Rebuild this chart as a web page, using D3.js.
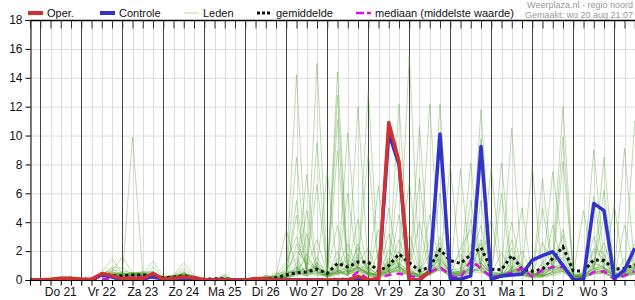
<!DOCTYPE html>
<html>
<head>
<meta charset="utf-8">
<script src="https://cdn.jsdelivr.net/npm/d3@7"></script>
<style>
  body { margin: 0; background: #fff; }
  svg { display: block; font-family: "Liberation Sans", Arial, sans-serif; }
</style>
</head>
<body>
<div id="container"></div>
<script>
// define constants
const WIDTH = 635;
const HEIGHT = 300;
const START = Date.UTC(2025, 7, 20, 18);   // wo 20 aug 18:00
const STEP = 6 * 3600 * 1000;              // 6-hourly values

const dayLabels = ["Do 21", "Vr 22", "Za 23", "Zo 24", "Ma 25", "Di 26", "Wo 27",
                   "Do 28", "Vr 29", "Za 30", "Zo 31", "Ma 1", "Di 2", "Wo 3"];
const yTicks = [0, 2, 4, 6, 8, 10, 12, 14, 16, 18];

// operationele run (stops at za 30 12:00)
const oper = [0, 0, 0.05, 0.12, 0.12, 0.05, 0.05, 0.45, 0.3, 0.08,
              0.08, 0.1, 0.45, 0.05, 0.12, 0.2, 0.15, 0.02, 0, 0.02,
              0, 0, 0.1, 0.08, 0, 0, 0, 0, 0, 0,
              0, 0, 0.25, 0.03, 0.02, 10.9, 8.2, 0, 0, 0.6];

const controle = [0, 0, 0, 0.03, 0.05, 0, 0.02, 0.35, 0.2, 0.05,
                  0.05, 0.05, 0.25, 0.02, 0.05, 0.1, 0.05, 0, 0, 0,
                  0, 0, 0.02, 0, 0, 0, 0, 0, 0, 0,
                  0, 0, 0.12, 0, 0.02, 10.15, 8.0, 0, 0, 0.6,
                  10.1, 0.1, 0.05, 0.28, 9.25, 0.05, 0.28, 0.35, 0.4, 1.38,
                  1.68, 1.96, 1.0, 0.02, 0.05, 5.3, 4.8, 0.1, 0.7, 2.2];

const gemiddelde = [0.02, 0.02, 0.03, 0.1, 0.1, 0.05, 0.05, 0.3, 0.3, 0.3,
                    0.35, 0.35, 0.35, 0.15, 0.2, 0.3, 0.15, 0.05, 0.08, 0.08,
                    0.03, 0.03, 0.08, 0.06, 0.15, 0.35, 0.5, 0.55, 0.75, 0.45,
                    1.15, 0.9, 1.25, 1.25, 0.6, 1.0, 1.8, 1.2, 0.65, 0.9,
                    2.1, 1.35, 1.15, 1.75, 2.25, 0.75, 0.7, 1.7, 0.75, 0.6,
                    0.75, 1.5, 2.3, 0.65, 0.6, 1.4, 1.35, 0.75, 0.8, 1.05];

const mediaan = [0, 0, 0, 0, 0, 0, 0, 0.05, 0.1, 0.15,
                 0.15, 0.2, 0.15, 0.02, 0.05, 0.05, 0.02, 0, 0, 0,
                 0, 0, 0, 0, 0, 0.02, 0.03, 0.03, 0.05, 0.02,
                 0.1, 0.05, 0.55, 0.05, 0.15, 0.35, 0.45, 0.3, 0.15, 0.5,
                 0.9, 0.3, 0.15, 1.35, 0.8, 0.2, 0.3, 0.5, 0.8, 0.25,
                 0.7, 0.9, 0.9, 0.1, 0.1, 0.55, 0.6, 0.05, 0.3, 0.6];

// ensemble members, one string per member, grouped per day (| = midnight)
const leden = [
  "0 0 0 0.1 0.1 | 0 0.1 0.4 0.3 | 0.2 0.3 0.3 0.2 | 0.1 0.2 0.2 0.1 | 0 0 0 0 | 0 0 0.1 0.2 | 0.5 14.2 0.8 0.3 | 0.4 1.2 0.6 1.8 | 0.9 0.3 1.1 2.0 | 0.6 0.2 0.4 2.2 | 0.8 0.5 1.5 2.0 | 0.3 0.2 1.4 0.6 | 0.4 0.3 0.9 3.1 | 0.3 0.2 1.2 0.8 | 0.2 0.6 1.0",
  "0 0 0 0.1 0.2 | 0 0 0.5 1.5 | 0.4 0.3 0.2 0.3 | 0 0.1 0.3 0.1 | 0 0.1 0 0 | 0 0 0 0.3 | 0.8 1.5 0.4 15.0 | 0.3 0.6 1.8 0.9 | 0.4 0.2 2.1 1.0 | 0.3 0.9 0.5 3.0 | 1.1 0.4 0.7 2.5 | 0.2 0.3 0.6 1.1 | 0.2 0.8 1.5 0.9 | 0.2 0.1 2.0 1.5 | 0.5 0.4 1.8",
  "0 0 0 0.2 0.1 | 0 0.1 0.3 0.6 | 1.6 0.5 0.4 0.3 | 0.2 0.1 0.5 0.2 | 0 0 0.2 0 | 0 0 0.1 0 | 0.2 0.6 7.3 0.5 | 0.2 14.4 0.9 0.7 | 1.2 0.5 0.8 1.4 | 2.0 0.4 1.1 0.6 | 0.9 1.8 0.5 1.2 | 0.4 0.6 2.2 0.5 | 0.3 0.4 0.7 1.6 | 0.2 0.3 0.8 0.6 | 0.9 0.3 0.5",
  "0 0 0 0 0.1 | 0 0 0.3 0.2 | 0.2 9.9 0.4 1.3 | 0.3 0.2 0.4 0.2 | 0.1 0 0 0 | 0 0.1 0.3 0.1 | 0.1 2.5 1.0 6.6 | 0.5 0.8 0.3 12.0 | 0.6 0.2 1.5 0.9 | 15.5 0.6 0.3 1.8 | 0.5 0.4 1.3 0.9 | 0.3 0.2 0.8 0.6 | 0.4 0.5 1.2 2.4 | 0.2 0.3 0.6 0.9 | 0.3 0.2 0.8",
  "0 0 0 0.1 0.2 | 0.1 0 0.4 0.8 | 0.3 0.4 0.5 0.6 | 0.1 0.3 1.2 0.3 | 0 0.1 0.1 0 | 0 0 0 0.5 | 0.3 0.9 0.6 1.2 | 0.2 12.8 0.5 0.8 | 13.1 0.6 0.9 1.5 | 0.8 0.3 12.2 1.0 | 0.2 0.7 1.9 0.6 | 0.3 0.4 10.5 0.8 | 0.5 0.2 1.0 0.7 | 0.2 0.5 1.3 0.9 | 0.4 0.3 0.6",
  "0 0 0 0.1 0.1 | 0 0.1 0.3 0.4 | 0.5 0.4 0.3 0.4 | 0.2 0.3 0.6 0.1 | 0 0 0.4 0 | 0 0 0.2 0.1 | 0.4 0.7 1.5 0.8 | 0.3 0.5 10.2 1.1 | 0.4 0.3 0.6 12.2 | 0.7 0.3 0.5 2.6 | 0.6 0.5 1.0 9.8 | 0.4 0.3 0.6 0.9 | 0.2 0.6 1.4 1.8 | 0.5 0.3 9.0 1.2 | 0.4 0.5 1.0",
  "0 0 0 0.2 0.2 | 0 0 0.5 0.4 | 0.3 0.3 0.2 0.3 | 0.1 0.2 0.3 0.2 | 0 0 0 0 | 0 0 0.3 0.2 | 0.3 1.2 0.5 0.9 | 0.5 11.1 0.4 0.6 | 0.8 0.4 0.7 1.1 | 0.6 10.6 0.3 0.9 | 0.5 0.6 8.1 0.7 | 0.2 0.5 0.4 0.6 | 7.9 0.3 0.5 0.8 | 0.3 0.2 0.7 0.5 | 0.2 0.4 0.6",
  "0 0 0 0 0.1 | 0 0 0.3 0.3 | 0.4 0.5 0.3 0.5 | 0.2 0.1 0.2 0.1 | 0 0.1 0.3 0 | 0 0 0 0.4 | 0.6 0.4 1.8 0.5 | 0.3 0.9 0.6 1.3 | 0.5 0.2 1.2 0.6 | 0.4 0.5 0.8 12.2 | 0.7 0.3 0.9 11.8 | 0.5 0.4 1.0 0.6 | 0.3 0.4 1.8 12.0 | 0.4 0.3 0.8 8.5 | 0.3 0.6 1.2",
  "0 0 0 0.1 0.1 | 0 0.1 0.4 0.5 | 0.3 0.2 0.4 0.3 | 0.1 0.3 0.4 0.3 | 0 0 0.1 0 | 0 0 0.2 0.3 | 1.2 3.0 0.7 0.6 | 0.4 1.5 0.8 2.2 | 0.6 0.3 0.5 1.9 | 0.8 0.2 0.6 1.1 | 8.0 0.6 0.8 1.5 | 0.4 0.3 1.2 0.4 | 0.2 0.6 7.5 2.0 | 0.4 0.2 0.6 1.5 | 0.3 9.1 0.8",
  "0 0 0 0.1 0.2 | 0 0 0.4 0.6 | 0.3 0.4 0.3 0.4 | 0.2 0.2 0.3 0.2 | 0 0 0 0 | 0 0 0 0.2 | 0.4 0.8 0.3 1.2 | 0.6 0.4 1.1 0.8 | 0.5 0.3 0.9 1.2 | 0.6 0.4 0.9 2.0 | 0.4 7.7 0.6 0.9 | 7.8 0.4 0.5 0.7 | 0.4 0.5 1.0 9.9 | 0.3 0.2 1.1 0.9 | 0.3 0.4 11.0",
  "0 0 0 0.1 0.1 | 0 0 0.3 0.9 | 0.8 0.4 0.6 0.5 | 0.1 0.1 0.4 0.2 | 0.1 0 0.2 0 | 0 0 0.2 0.1 | 0.2 0.5 0.9 2.8 | 0.4 0.6 0.4 1.6 | 0.7 0.4 1.3 0.8 | 0.5 0.3 0.6 1.4 | 0.6 0.3 0.8 1.2 | 0.3 8.1 0.6 0.9 | 0.5 0.3 0.9 8.2 | 0.6 0.4 1.5 1.2 | 0.4 0.5 0.9",
  "0 0 0 0.1 0.1 | 0 0.1 0.5 0.2 | 0.2 0.3 0.3 0.9 | 0.2 0.2 0.5 0.1 | 0 0 0.1 0 | 0 0 0.1 0.1 | 0.3 4.5 0.6 1.0 | 0.3 0.8 2.5 0.7 | 0.4 0.5 3.2 0.9 | 0.7 4.0 0.4 0.8 | 0.3 2.2 3.5 1.0 | 0.6 0.4 2.8 0.5 | 0.3 0.8 0.6 3.5 | 0.4 0.3 0.9 2.6 | 0.2 1.5 0.7",
  "0 0 0 0.2 0.1 | 0 0 0.4 0.5 | 0.5 0.2 0.4 0.4 | 0.1 0.2 0.3 0.2 | 0 0 0 0 | 0 0 0.3 0.2 | 0.5 0.6 0.8 0.5 | 0.6 3.8 0.5 1.2 | 2.2 0.4 0.6 4.5 | 0.6 0.3 2.8 0.9 | 0.5 0.6 1.4 3.8 | 0.4 1.9 0.6 0.7 | 0.3 2.6 0.8 1.1 | 0.3 0.4 3.0 0.8 | 0.5 0.4 2.5",
  "0 0 0 0.1 0.1 | 0 0 0.3 0.4 | 0.4 0.5 0.5 0.3 | 0.2 0.3 0.4 0.2 | 0 0 0 0 | 0 0 0 0.1 | 0.1 0.4 3.2 0.6 | 0.3 2.0 0.5 0.9 | 0.4 1.8 0.6 0.7 | 3.2 0.4 0.5 1.2 | 0.4 0.3 4.2 0.9 | 0.6 0.3 0.7 2.0 | 0.4 0.5 0.8 0.6 | 0.2 0.6 1.0 4.4 | 0.3 0.5 1.2",
  "0 0 0 0 0.1 | 0 0 0.3 0.3 | 0.3 0.3 0.2 0.3 | 0.1 0.1 0.2 0.1 | 0 0 0 0 | 0 0 0.1 0 | 0.1 0.3 0.5 0.4 | 0.3 0.5 0.4 0.6 | 0.4 0.2 0.5 0.6 | 0.3 0.2 0.4 0.7 | 0.3 0.4 0.6 0.5 | 0.2 0.2 0.4 0.3 | 0.2 0.3 0.5 0.6 | 0.1 0.2 0.4 0.5 | 0.2 0.3 0.4",
  "0 0 0 0.1 0.1 | 0 0 0.4 0.3 | 0.2 0.4 0.3 0.2 | 0.1 0.2 0.3 0.1 | 0 0 0.1 0 | 0 0 0 0.2 | 0.2 0.9 0.4 1.6 | 0.2 0.7 0.3 0.9 | 0.3 0.1 0.4 1.0 | 0.2 0.1 0.6 0.8 | 0.2 0.3 0.5 0.9 | 0.1 0.2 0.9 0.4 | 0.1 0.2 0.6 1.0 | 0.1 0.1 0.5 0.6 | 0.1 0.3 0.5",
  "0 0 0 0.1 0.2 | 0 0.1 0.4 0.7 | 0.6 0.5 0.4 0.6 | 0.2 0.3 0.8 0.2 | 0 0.1 0.2 0 | 0 0 0.2 0.3 | 0.6 2.0 1.2 0.8 | 0.5 1.0 1.4 0.8 | 0.9 0.4 0.7 2.8 | 0.9 0.5 1.8 1.3 | 0.7 0.8 2.5 1.6 | 0.3 0.5 1.6 0.8 | 0.3 1.2 2.0 1.4 | 0.2 0.4 2.2 1.8 | 0.6 0.8 1.5",
  "0 0 0 0.1 0.1 | 0 0 0.3 0.4 | 0.4 0.3 0.3 0.4 | 0.2 0.2 0.3 0.1 | 0 0 0 0 | 0 0 0 0 | 0.1 0.5 0.3 0.7 | 0.2 0.4 0.6 0.5 | 0.3 0.2 0.6 0.8 | 0.4 0.2 0.5 1.0 | 0.3 0.2 0.8 0.6 | 0.2 0.3 0.5 0.4 | 0.2 0.3 0.4 0.7 | 0.1 0.2 0.6 0.4 | 0.2 0.3 0.6",
  "0 0 0 0.1 0.1 | 0 0 0.5 0.3 | 0.3 0.4 0.4 0.3 | 0.1 0.2 0.4 0.1 | 0 0 0 0 | 0 0 0.1 0.1 | 0.2 5.5 0.5 0.9 | 0.3 0.6 0.8 4.2 | 0.5 0.3 5.0 0.8 | 0.5 0.2 0.8 1.6 | 0.4 0.3 0.9 5.5 | 0.3 0.2 0.7 0.5 | 0.2 0.6 0.9 0.8 | 0.3 0.2 5.8 0.7 | 0.3 0.4 0.8",
  "0 0 0 0.1 0.1 | 0 0 0.4 0.2 | 0.2 0.3 0.3 0.3 | 0.1 0.1 0.2 0.1 | 0 0 0 0 | 0 0 0 0.1 | 0.2 0.6 0.3 0.5 | 0.2 0.4 0.7 0.6 | 0.4 6.5 0.5 0.7 | 0.4 0.2 0.5 0.9 | 0.4 0.3 0.6 0.7 | 0.2 0.4 0.6 0.4 | 0.2 0.3 0.4 0.6 | 0.2 0.2 0.5 0.7 | 0.2 0.3 0.5",
  "0 0 0 0.1 0.1 | 0 0 0.3 0.3 | 0.3 0.3 0.3 0.4 | 0.1 0.2 0.3 0.1 | 0 0 0 0 | 0 0.1 0.2 0.1 | 0.3 8.5 0.6 1.0 | 0.4 0.5 6.0 0.8 | 0.5 0.3 0.6 1.0 | 6.8 0.4 0.5 1.2 | 0.5 0.4 2.0 0.8 | 0.3 6.0 0.4 0.6 | 0.3 0.4 3.8 0.7 | 0.2 0.3 0.8 6.2 | 0.3 0.5 0.9",
  "0 0 0 0.1 0.2 | 0 0 0.4 0.4 | 0.5 0.4 0.3 0.3 | 0.2 0.2 0.5 0.2 | 0 0 0 0 | 0 0 0.1 0.2 | 0.5 0.6 4.8 0.8 | 0.3 9.0 0.5 0.7 | 0.5 0.4 0.8 7.5 | 0.6 0.3 4.5 0.9 | 0.4 0.5 0.7 1.3 | 4.2 0.3 0.6 0.5 | 0.3 5.0 0.7 1.0 | 0.2 0.3 0.8 1.0 | 5.2 0.4 0.7",
  "0 0 0 0.1 0.1 | 0 0 0.3 0.5 | 0.4 0.5 0.5 0.4 | 0.2 0.3 0.4 0.3 | 0 0 0.1 0 | 0 0 0 0.3 | 3.5 0.8 0.5 9.5 | 0.3 0.6 0.4 1.0 | 8.8 0.4 0.6 0.9 | 0.5 7.0 0.5 1.0 | 0.4 0.5 5.5 0.9 | 0.3 0.4 0.7 5.0 | 0.3 0.3 0.6 0.9 | 0.3 4.8 0.7 0.8 | 0.3 0.5 0.8",
  "0 0 0 0.2 0.1 | 0 0 0.4 0.3 | 0.3 0.3 0.4 0.3 | 0.1 0.2 0.3 0.2 | 0 0 0 0 | 0 0 0.2 0.1 | 0.2 0.5 0.4 0.7 | 7.5 0.5 0.6 0.9 | 0.4 3.5 0.5 0.7 | 0.4 0.3 0.6 6.0 | 0.5 0.3 0.6 0.8 | 0.2 0.3 4.0 0.6 | 0.2 7.0 0.5 0.8 | 0.2 0.3 0.5 0.7 | 0.2 3.8 0.6",
  "0 0 0 0.1 0.1 | 0 0 0.3 0.2 | 0.2 0.3 0.2 0.3 | 0.1 0.1 0.2 0.1 | 0 0 0 0 | 0 0 0 0.1 | 0.2 0.4 0.3 0.6 | 0.2 0.5 0.3 2.5 | 0.3 0.2 0.5 0.6 | 0.3 0.2 0.4 0.7 | 0.3 0.2 0.5 2.8 | 0.2 0.2 0.4 0.3 | 0.2 0.2 0.3 0.5 | 0.1 0.2 0.4 0.5 | 0.2 0.2 0.4",
  "0 0 0 0.1 0.1 | 0 0.1 0.3 0.3 | 0.3 0.4 0.3 0.4 | 0.1 0.2 0.3 0.1 | 0 0 0 0 | 0 0 0.1 0.1 | 0.2 0.6 0.5 0.8 | 0.4 0.7 0.5 0.9 | 0.5 0.3 0.7 0.9 | 0.5 0.3 0.7 1.5 | 0.5 0.4 0.9 1.2 | 0.3 0.3 0.8 0.5 | 0.3 0.4 0.8 1.2 | 0.2 0.3 0.9 0.8 | 0.3 0.4 0.8"
].map(s => s.replace(/\|/g, " ").trim().split(/\s+/).map(Number));

const N = controle.length;
const times = d3.range(N).map(i => new Date(START + i * STEP));

// scales
const xScale = d3.scaleUtc()
    .domain([times[0], times[N - 1]])
    .range([30, 634.75]);

const yScale = d3.scaleLinear()
    .domain([0, 18])
    .range([280, 20]);

const L = { left: 30, right: WIDTH, top: 20, bottom: 280 };

// create svg element
const canvas = d3.select("#container")
    .append("svg")
    .attr("width", WIDTH)
    .attr("height", HEIGHT);

canvas.append("clipPath")
    .attr("id", "plot")
    .append("rect")
    .attr("x", L.left)
    .attr("y", L.top - 2)
    .attr("width", L.right - L.left)
    .attr("height", L.bottom - L.top + 2);

// horizontal grid
canvas.append("g")
    .selectAll("line")
    .data(yTicks.filter(d => d > 0 && d < 18))
    .enter()
    .append("line")
    .attr("x1", L.left).attr("x2", L.right)
    .attr("y1", d => yScale(d) + 0.5).attr("y2", d => yScale(d) + 0.5)
    .attr("stroke", "#dcdcdc");

// vertical grid every 6 hours, darker at midnight
const gridTimes = d3.utcHour.every(6).range(times[0], new Date(+times[N - 1] + 1));
canvas.append("g")
    .selectAll("line")
    .data(gridTimes.filter(t => t.getUTCHours() !== 0))
    .enter()
    .append("line")
    .attr("x1", d => Math.round(xScale(d)) + 0.5).attr("x2", d => Math.round(xScale(d)) + 0.5)
    .attr("y1", L.top).attr("y2", L.bottom)
    .attr("stroke", "#dcdcdc");

// midnight lines
canvas.append("g")
    .selectAll("line")
    .data(gridTimes.filter(t => t.getUTCHours() === 0))
    .enter()
    .append("line")
    .attr("x1", d => Math.round(xScale(d)) + 0.5).attr("x2", d => Math.round(xScale(d)) + 0.5)
    .attr("y1", L.top).attr("y2", L.bottom)
    .attr("stroke", "#444");

// series
const line = d3.line()
    .x((d, i) => xScale(times[i]))
    .y(d => yScale(d));

const series = canvas.append("g").attr("clip-path", "url(#plot)");

series.selectAll(".lid")
    .data(leden)
    .enter()
    .append("path")
    .attr("class", "lid")
    .attr("d", line)
    .attr("fill", "none")
    .attr("stroke", "#4a9e28")
    .attr("stroke-opacity", 0.36)
    .attr("stroke-width", 1);

series.append("path")
    .attr("d", line(gemiddelde))
    .attr("fill", "none")
    .attr("stroke", "#111")
    .attr("stroke-width", 3)
    .attr("stroke-dasharray", "3,3");

series.append("path")
    .attr("d", line(mediaan))
    .attr("fill", "none")
    .attr("stroke", "#dd11dd")
    .attr("stroke-width", 2.5)
    .attr("stroke-dasharray", "7,5");

series.append("path")
    .attr("d", line(controle))
    .attr("fill", "none")
    .attr("stroke", "#3333cc")
    .attr("stroke-width", 3.5)
    .attr("stroke-linejoin", "round");

series.append("path")
    .attr("d", line(oper))
    .attr("fill", "none")
    .attr("stroke", "#d33030")
    .attr("stroke-width", 3.5)
    .attr("stroke-linejoin", "round");

// axes
const leftAxis = d3.axisLeft(yScale)
    .tickValues(yTicks)
    .tickSize(5)
    .tickPadding(3)
    .tickFormat(d3.format("d"));

canvas.append("g")
    .attr("transform", "translate(" + (L.left + 0.5) + ",0)")
    .call(leftAxis)
    .call(g => g.selectAll("text").attr("font-size", 12).attr("fill", "#111").attr("font-family", "Liberation Sans, Arial, sans-serif"))
    .call(g => g.selectAll("line,path").attr("stroke", "#000"));

const bottomAxis = d3.axisBottom(xScale)
    .tickValues(gridTimes)
    .tickSize(5)
    .tickFormat("");

canvas.append("g")
    .attr("transform", "translate(0," + (L.bottom + 0.5) + ")")
    .call(bottomAxis)
    .call(g => g.select(".domain").attr("d", "M" + L.left + ",0H" + L.right))
    .call(g => g.selectAll("line,path").attr("stroke", "#000"));

// top border with inward ticks
const topAxis = d3.axisBottom(xScale)
    .tickValues(gridTimes)
    .tickSize(8)
    .tickFormat("");

canvas.append("g")
    .attr("transform", "translate(0," + (L.top + 0.5) + ")")
    .call(topAxis)
    .call(g => g.select(".domain").attr("d", "M" + L.left + ",0H" + L.right))
    .call(g => g.selectAll("line").attr("stroke", "#333"))
    .call(g => g.select(".domain").attr("stroke", "#000").attr("stroke-width", 1.5));

// day labels at noon
canvas.append("g")
    .selectAll("text")
    .data(dayLabels)
    .enter()
    .append("text")
    .attr("x", (d, i) => xScale(new Date(START + (1 + 4 * i + 2) * STEP)))
    .attr("y", 296)
    .attr("text-anchor", "middle")
    .attr("font-size", 12)
    .attr("fill", "#111")
    .text(d => d);

// legend
const legend = [
  { label: "Oper.", x: 28, color: "#d33030", width: 4, dash: null },
  { label: "Controle", x: 100, color: "#3333cc", width: 4, dash: null },
  { label: "Leden", x: 184, color: "#b5d9a5", width: 1, dash: null },
  { label: "gemiddelde", x: 257, color: "#111", width: 3, dash: "3,2" },
  { label: "mediaan (middelste waarde)", x: 356, color: "#dd11dd", width: 2.5, dash: "8,3" }
];

const lg = canvas.append("g")
    .selectAll("g")
    .data(legend)
    .enter()
    .append("g");

lg.append("line")
    .attr("x1", d => d.x).attr("x2", d => d.x + 15)
    .attr("y1", 13).attr("y2", 13)
    .attr("stroke", d => d.color)
    .attr("stroke-width", d => d.width)
    .attr("stroke-dasharray", d => d.dash);

lg.append("text")
    .attr("x", d => d.x + 19)
    .attr("y", 17)
    .attr("font-size", 11)
    .attr("fill", "#111")
    .text(d => d.label);

canvas.append("text")
    .attr("x", 633).attr("y", 8)
    .attr("text-anchor", "end")
    .attr("font-size", 9)
    .attr("fill", "#999")
    .text("Weerplaza.nl - regio noord");

canvas.append("text")
    .attr("x", 633).attr("y", 18)
    .attr("text-anchor", "end")
    .attr("font-size", 9)
    .attr("fill", "#999")
    .text("Gemaakt: wo 20 aug 21:07");
</script>
</body>
</html>
